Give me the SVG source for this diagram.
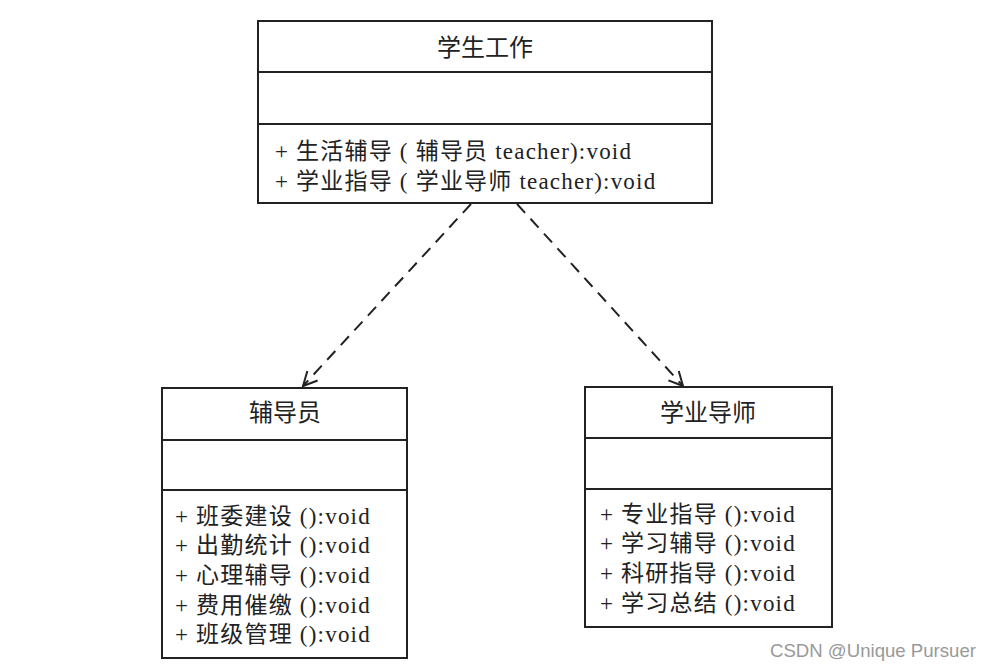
<svg xmlns="http://www.w3.org/2000/svg" width="991" height="671" viewBox="0 0 991 671">
<style>
.box{fill:#fff;stroke:#222;stroke-width:2}
.div{stroke:#222;stroke-width:2}
text{font-family:"Liberation Serif","Noto Sans CJK SC",serif;fill:#222}
.t{font-size:24px;text-anchor:middle}
.m{font-size:23px;letter-spacing:1.2px}
.conn{fill:none;stroke:#222;stroke-width:2;stroke-dasharray:12,8}
.wm{font-family:"Liberation Sans",Arial,sans-serif;font-size:18.6px;fill:#999}
</style>
<defs>
<marker id="open" markerWidth="20" markerHeight="20" refX="16" refY="8" orient="auto" markerUnits="userSpaceOnUse">
<path d="M2,1 L16,8 L2,15" fill="none" stroke="#222" stroke-width="2"/>
</marker>
</defs>
<rect width="991" height="671" fill="#fff"/>
<g id="work">
<rect class="box" x="258" y="21" width="454" height="182"/>
<line class="div" x1="258" y1="72" x2="712" y2="72"/>
<line class="div" x1="258" y1="124" x2="712" y2="124"/>
<text class="t" x="485" y="56">学生工作</text>
<text class="m" x="275" y="159">+ 生活辅导 ( 辅导员 teacher):void</text>
<text class="m" x="275" y="189">+ 学业指导 ( 学业导师 teacher):void</text>
</g>
<g id="counselor">
<rect class="box" x="162" y="388" width="245" height="270"/>
<line class="div" x1="162" y1="440" x2="407" y2="440"/>
<line class="div" x1="162" y1="490" x2="407" y2="490"/>
<text class="t" x="285" y="421">辅导员</text>
<text class="m" x="175" y="524">+ 班委建设 ():void</text>
<text class="m" x="175" y="553">+ 出勤统计 ():void</text>
<text class="m" x="175" y="583">+ 心理辅导 ():void</text>
<text class="m" x="175" y="613">+ 费用催缴 ():void</text>
<text class="m" x="175" y="642">+ 班级管理 ():void</text>
</g>
<g id="tutor">
<rect class="box" x="585" y="387" width="247" height="240"/>
<line class="div" x1="585" y1="438" x2="832" y2="438"/>
<line class="div" x1="585" y1="489" x2="832" y2="489"/>
<text class="t" x="708" y="421">学业导师</text>
<text class="m" x="600" y="522">+ 专业指导 ():void</text>
<text class="m" x="600" y="551">+ 学习辅导 ():void</text>
<text class="m" x="600" y="581">+ 科研指导 ():void</text>
<text class="m" x="600" y="611">+ 学习总结 ():void</text>
</g>
<g id="connectors">
<line class="conn" x1="471" y1="204" x2="303" y2="386" marker-end="url(#open)"/>
<line class="conn" x1="517" y1="204" x2="683" y2="386" marker-end="url(#open)"/>
</g>
<text class="wm" x="770" y="657">CSDN @Unique Pursuer</text>
</svg>
